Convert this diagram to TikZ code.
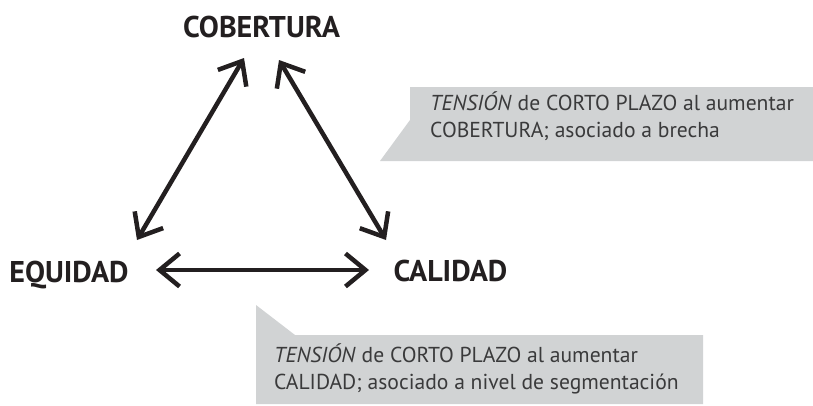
\documentclass[tikz,border=0pt]{standalone}
\usepackage{fontspec}
\setmainfont{PT Sans}
\usetikzlibrary{arrows.meta}
\definecolor{ink}{HTML}{231F20}
\definecolor{boxgray}{HTML}{D1D3D4}
\definecolor{txtgray}{HTML}{3A3A3B}
\begin{document}
\begin{tikzpicture}[x=1pt,y=-1pt,
  title/.style={font=\fontsize{30}{32}\selectfont\bfseries, text=ink, inner sep=0pt, anchor=base},
  note/.style={font=\fontsize{21.6}{26}\selectfont, text=txtgray, inner sep=0pt, anchor=base west},
  link/.style={draw=ink, line width=4.5pt,
    {Straight Barb[length=20pt,width=33pt]}-{Straight Barb[length=20pt,width=33pt]}},
  callout/.style={fill=boxgray, draw=none}]
\useasboundingbox (0,0) rectangle (813,405);
% callout shapes
\path[callout] (410,87) -- (813,87) -- (813,161) -- (380,161) -- (410,120) -- cycle;
\path[callout] (256,305) -- (295,335) -- (703,335) -- (703,404) -- (256,404) -- cycle;
% titles
\node[title] (cob) at (261.5,37) {COBERTURA};
\node[title] (equ) at (69,282) {EQUIDAD};
\node[title] (cal) at (450.5,281) {CALIDAD};
% arrow ends
\coordinate (cobL) at (244,58);
\coordinate (cobR) at (279,60);
\coordinate (equT) at (137,240);
\coordinate (equR) at (156,270);
\coordinate (calT) at (386,240);
\coordinate (calL) at (369,270);
\draw[link] (equT) -- (cobL);
\draw[link] (cobR) -- (calT);
\draw[link] (equR) -- (calL);
% notes
\node[note] (n1a) at (430,110) {\textit{TENSIÓN} de CORTO PLAZO al aumentar};
\node[note] (n1b) at (430,137) {COBERTURA; asociado a brecha};
\node[note] (n2a) at (274,362) {\textit{TENSIÓN} de CORTO PLAZO al aumentar};
\node[note] (n2b) at (274,389) {CALIDAD; asociado a nivel de segmentación};
\end{tikzpicture}
\end{document}
